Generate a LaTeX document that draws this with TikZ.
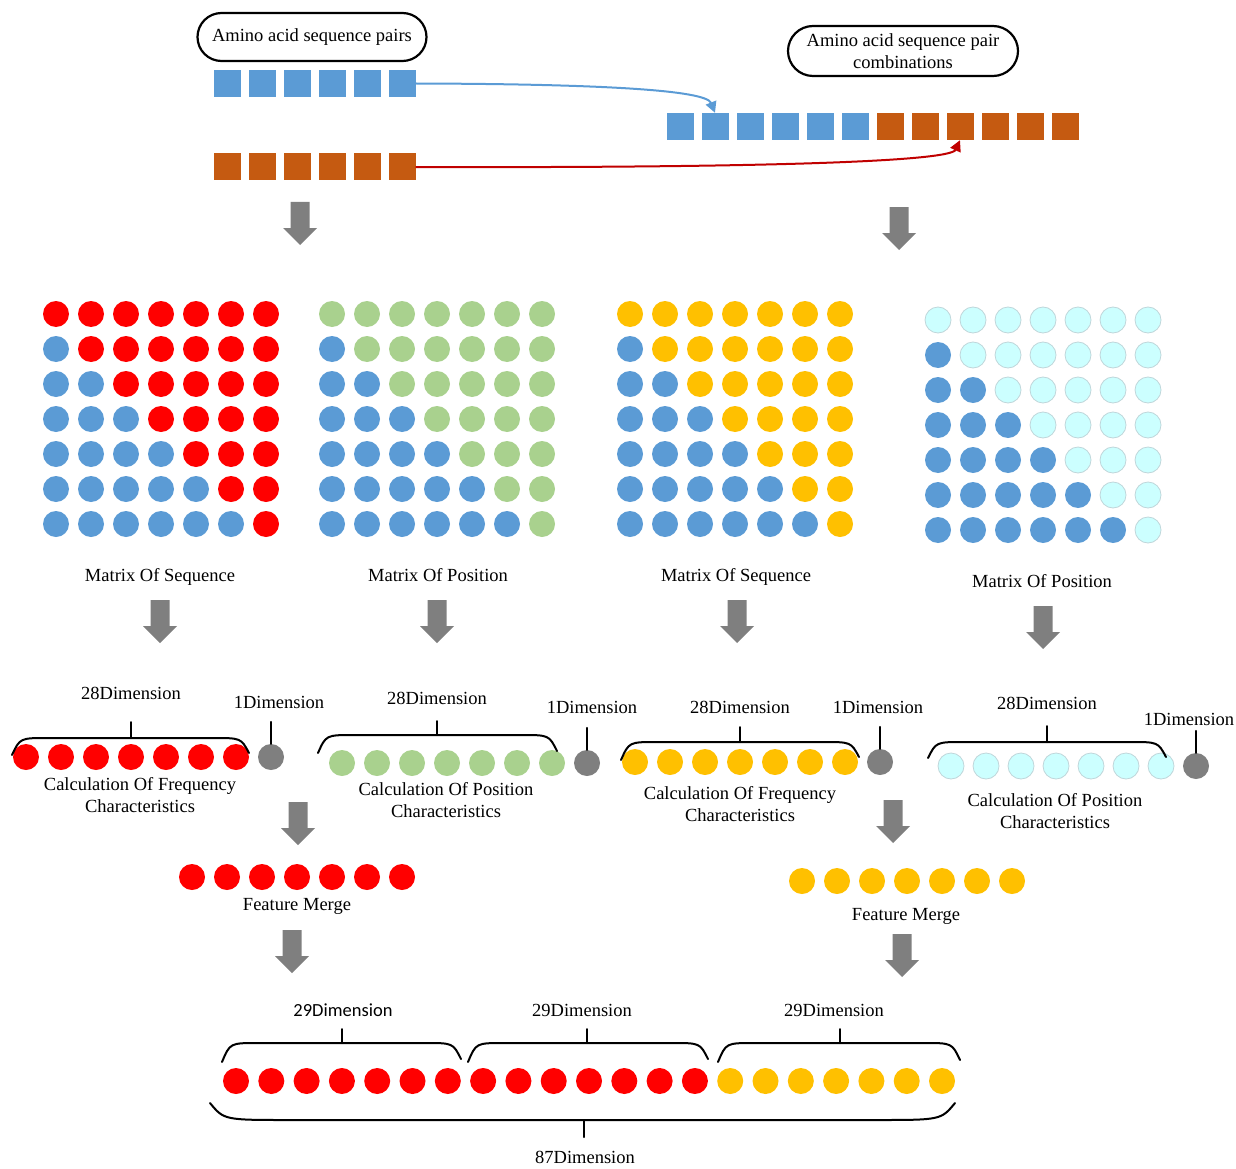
\documentclass[tikz,border=0pt]{standalone}
\usepackage{fontspec}
\setmainfont{Liberation Serif}
\newfontfamily\calibfont{Carlito}
\usetikzlibrary{arrows.meta}
\definecolor{sqblue}{HTML}{5B9BD5}
\definecolor{sqorange}{HTML}{C55A11}
\definecolor{dred}{HTML}{FF0000}
\definecolor{dgreen}{HTML}{A9D18E}
\definecolor{dyellow}{HTML}{FFC000}
\definecolor{dcyan}{HTML}{CCFFFF}
\definecolor{cyanedge}{HTML}{BFD6DA}
\definecolor{dgray}{HTML}{7F7F7F}
\definecolor{lred}{HTML}{C00000}
\definecolor{arrgray}{HTML}{7F7F7F}
\newcommand\mybrace[7]{%
  \draw[brk] (#1,#3) .. controls ({#1+8},#4) .. ({#1+36},#4) -- ({#2-36},#4) .. controls ({#2-8},#4) .. (#2,#5);
  \draw[brk] (#6,#4) -- (#6,#7);}
\tikzset{
  sq/.style={rectangle, minimum size=27pt, inner sep=0pt, fill=#1},
  dot/.style={circle, minimum size=26pt, inner sep=0pt, fill=#1},
  reddot/.style={dot=dred},
  greendot/.style={dot=dgreen},
  yellowdot/.style={dot=dyellow},
  bluedot/.style={dot=sqblue},
  graydot/.style={dot=dgray},
  cyandot/.style={dot=dcyan, draw=cyanedge, line width=0.8pt},
  lbl/.style={inner sep=0pt, text height=17pt, text depth=4pt},
  mlbl/.style={inner sep=0pt, align=center},
  pill/.style={draw, line width=2.2pt, rounded corners=24pt, minimum width=229pt, minimum height=48pt, align=center, inner sep=0pt},
  brk/.style={line width=2pt, line cap=round},
  blockarr/.pic={\fill[arrgray] (-9.5,0) -- (9.5,0) -- (9.5,26) -- (17,26) -- (0,43) -- (-17,26) -- (-9.5,26) -- cycle;},
}
\begin{document}
\begin{tikzpicture}[x=1pt, y=-1pt, font=\fontsize{18.5}{21.5}\selectfont]
\useasboundingbox (0,0) rectangle (1236,1169);

% top boxes
\node[pill] (p1) at (312,37) {Amino acid sequence pairs};
\node[pill, minimum width=230pt, minimum height=50pt, rounded corners=25pt] (p2) at (903,51) {Amino acid sequence pair\\combinations};

% squares
\foreach \i in {1,...,6} \node[sq=sqblue] (a\i) at ({192+35*\i},83.5) {};
\foreach \i in {1,...,6} \node[sq=sqorange] (b\i) at ({192+35*\i},167) {};
\foreach \i in {1,...,12}{
  \ifnum\i<7 \def\cc{sqblue}\else\def\cc{sqorange}\fi
  \node[sq=\cc] (c\i) at ({645+35*\i},126.5) {};
}
\draw[sqblue, line width=2pt, -{Triangle[length=11pt,width=11pt]}] (a6.east) .. controls (600,84) and (706,90) .. (c2.north);
\draw[lred, line width=2pt, -{Triangle[length=11pt,width=11pt]}] (b6.east) .. controls (750,168) and (950,162) .. (c9.south);

% block arrows
\foreach \x/\y in {300/202, 899/207, 160/600, 437/600, 737/600, 1043/606, 298/802, 893/800, 292/930, 902/934}
  \pic at (\x,\y) {blockarr};

% matrices
\foreach \m/\xo/\yo/\st in {1/56/314/reddot, 2/332/314/greendot, 3/630/314/yellowdot, 4/938/320/cyandot}{
  \foreach \r in {0,...,6}{
    \foreach \c in {0,...,6}{
      \ifnum\c<\r \def\cs{bluedot}\else \let\cs\st\fi
      \node[\cs] (m\m-\r-\c) at ({\xo+35*\c},{\yo+35*\r}) {};
    }
  }
}
\node[lbl] (ml1) at (160,575) {Matrix Of Sequence};
\node[lbl] (ml2) at (438,575) {Matrix Of Position};
\node[lbl] (ml3) at (736,575) {Matrix Of Sequence};
\node[lbl] (ml4) at (1042,581) {Matrix Of Position};

% level-1 groups
\foreach \g/\xo/\yo/\st in {1/26/757/reddot, 2/342/763/greendot, 3/635/762/yellowdot, 4/951/766/cyandot}{
  \foreach \k in {0,...,6} \node[\st] (g\g-\k) at ({\xo+35*\k},\yo) {};
  \node[graydot] (g\g-x) at ({\xo+245},\yo) {};
  \draw[brk] (g\g-x.north) -- ++(0,-22);
}
\mybrace{12}{249}{755}{738}{753}{131}{722}
\mybrace{318}{557}{753}{735}{751}{437}{721}
\mybrace{621}{859}{760}{742}{757}{740}{727}
\mybrace{928}{1166}{758}{742}{757}{1047}{726}

\node[lbl] (d1) at (131,693) {28Dimension};
\node[lbl] (d2) at (437,698) {28Dimension};
\node[lbl] (d3) at (740,707) {28Dimension};
\node[lbl] (d4) at (1047,703) {28Dimension};
\node[lbl] (e1) at (279,702) {1Dimension};
\node[lbl] (e2) at (592,707) {1Dimension};
\node[lbl] (e3) at (878,707) {1Dimension};
\node[lbl] (e4) at (1189,719) {1Dimension};

\node[mlbl] (t1) at (140,795) {Calculation Of Frequency\\Characteristics};
\node[mlbl] (t2) at (446,800) {Calculation Of Position\\Characteristics};
\node[mlbl] (t3) at (740,804) {Calculation Of Frequency\\Characteristics};
\node[mlbl] (t4) at (1055,811) {Calculation Of Position\\Characteristics};

% feature merge
\foreach \k in {0,...,6} \node[reddot] (f1-\k) at ({192+35*\k},877) {};
\foreach \k in {0,...,6} \node[yellowdot] (f2-\k) at ({802+35*\k},881) {};
\node[lbl] (fm1) at (297,904) {Feature Merge};
\node[lbl] (fm2) at (906,914) {Feature Merge};

% bottom
\foreach \k in {0,...,20}{
  \ifnum\k<14 \def\cs{reddot}\else\def\cs{yellowdot}\fi
  \node[\cs] (z\k) at ({236+35.3*\k},1081) {};
}
\mybrace{222}{461}{1062}{1043}{1059}{342}{1029}
\mybrace{468}{708}{1062}{1043}{1059}{587}{1029}
\mybrace{718}{960}{1062}{1043}{1060}{840}{1029}
\draw[brk] (210,1103) .. controls (224,1120) .. (290,1120) -- (875,1120) .. controls (941,1120) .. (955,1103);
\draw[brk] (584,1120) -- (584,1137);

\node[lbl, font=\calibfont\fontsize{18.5}{21.5}\selectfont] (n1) at (343,1010) {29Dimension};
\node[lbl] (n2) at (582,1010) {29Dimension};
\node[lbl] (n3) at (834,1010) {29Dimension};
\node[lbl] (n4) at (585,1157) {87Dimension};
\end{tikzpicture}
\end{document}
